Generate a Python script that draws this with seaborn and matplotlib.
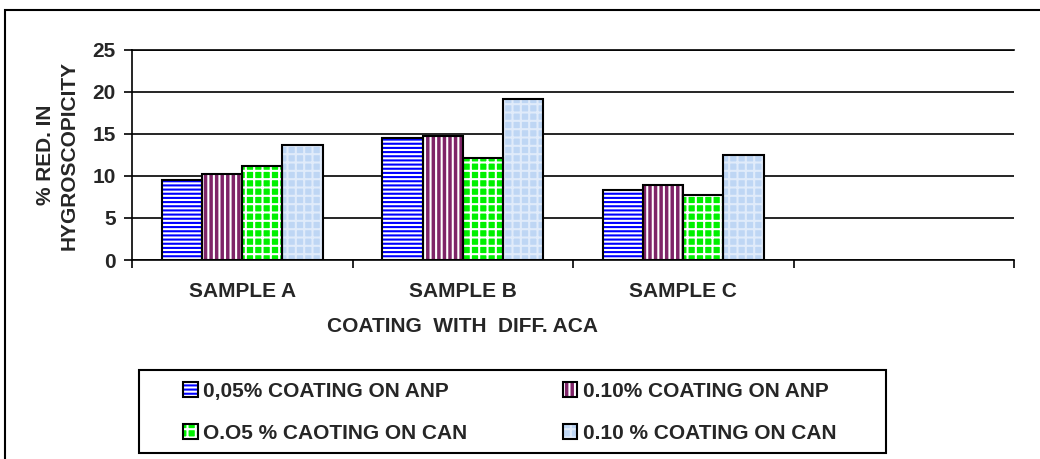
import matplotlib
matplotlib.use("Agg")
import matplotlib.pyplot as plt
import seaborn as sns
import pandas as pd
import numpy as np
from matplotlib.patches import Patch, Rectangle
from matplotlib.legend_handler import HandlerTuple
from matplotlib.colors import to_rgba

# ---------------- data ----------------
categories = ["SAMPLE A", "SAMPLE B", "SAMPLE C", ""]
series_names = ["0,05% COATING ON ANP", "0.10% COATING ON ANP",
                "O.O5 % CAOTING ON CAN", "0.10 % COATING ON CAN"]
anp_005 = [9.5, 14.5, 8.3]
anp_010 = [10.2, 14.8, 8.9]
can_005 = [11.2, 12.1, 7.7]
can_010 = [13.7, 19.2, 12.5]
y_ticks = [0, 5, 10, 15, 20, 25]
x_title = "COATING  WITH  DIFF. ACA"
y_title = "% RED. IN\nHYGROSCOPICITY"

# ---------------- style ----------------
face_colors = ["#FFFFFF", "#7F2468", "#00F000", "#BED6F4"]
hatch_colors = ["#0000FF", "#FFFFFF", "#FFFFFF", "#E0EBFA"]
hatches = ["----", "|||", "++", "++"]

sns.set_style("white")
plt.rcParams["font.family"] = ["Liberation Sans", "DejaVu Sans"]
plt.rcParams["font.weight"] = "bold"
plt.rcParams["hatch.linewidth"] = 1.5
FS = 15

rows = []
for name, vals in zip(series_names, [anp_005, anp_010, can_005, can_010]):
    for cat, v in zip(categories[:3], vals):
        rows.append({"cat": cat, "val": v, "series": name})
df = pd.DataFrame(rows)

W, H = 1040, 459
fig = plt.figure(figsize=(W / 100, H / 100), dpi=100)
ax = fig.add_axes([132 / W, 1 - 260 / H, (1014 - 132) / W, (260 - 50) / H])

pal = dict(zip(series_names, face_colors))
# pass 1: filled, hatched bars
sns.barplot(data=df, x="cat", y="val", hue="series", order=categories,
            hue_order=series_names, palette=pal, width=0.73, linewidth=0,
            errorbar=None, legend=False, ax=ax, saturation=1)
n_first = len(ax.patches)
face_rgba = [to_rgba(c) for c in face_colors]
for p in ax.patches:
    fc = p.get_facecolor()
    idx = int(np.argmin([np.sum((np.array(fc) - np.array(c)) ** 2) for c in face_rgba]))
    p.set_hatch(hatches[idx])
    p.set_edgecolor(hatch_colors[idx])
    p.set_linewidth(0)

# pass 2: black outlines
sns.barplot(data=df, x="cat", y="val", hue="series", order=categories,
            hue_order=series_names, palette=pal, width=0.73, linewidth=1.5,
            errorbar=None, legend=False, ax=ax, saturation=1)
for p in ax.patches[n_first:]:
    p.set_facecolor("none")
    p.set_edgecolor("black")
    p.set_linewidth(1.5)

# ---------------- axes ----------------
ax.set_xlim(-0.5, len(categories) - 0.5)
ax.set_ylim(0, 25)
ax.set_yticks(y_ticks)
ax.set_yticklabels([str(t) for t in y_ticks], fontsize=FS, fontweight="bold")
ax.set_xticks(range(len(categories)))
ax.set_xticklabels(categories, fontsize=FS, fontweight="bold")
ax.set_xticks(np.arange(-0.5, len(categories)), minor=True)
ax.tick_params(axis="x", which="major", bottom=True, length=0, pad=16)
ax.tick_params(axis="x", which="minor", bottom=True, length=5.5, width=1.2,
               direction="out", color="black")
ax.tick_params(axis="y", which="major", left=True, length=5.8, width=1.2,
               direction="out", color="black", pad=6)
ax.yaxis.grid(True, color="black", linewidth=1.2)
ax.xaxis.grid(False)
ax.set_axisbelow(True)
for s in ["left", "bottom", "top"]:
    ax.spines[s].set_visible(True)
    ax.spines[s].set_color("black")
    ax.spines[s].set_linewidth(1.2)
ax.spines["right"].set_visible(False)

ax.set_xlabel(x_title, fontsize=FS, fontweight="bold")
ax.xaxis.set_label_coords((462.5 - 132) / (1014 - 132), -(326 - 260) / (260 - 50))
ax.xaxis.label.set_va("center")
ax.set_ylabel(y_title, fontsize=FS, fontweight="bold", linespacing=1.3, labelpad=10)

# ---------------- legend (row-major order like the reference) ----------------
handles = []
for fc, hc, h in zip(face_colors, hatch_colors, hatches):
    handles.append((Patch(facecolor=fc, edgecolor=hc, hatch=h, linewidth=0),
                    Patch(facecolor="none", edgecolor="black", linewidth=1.5)))
order = [0, 2, 1, 3]
fig.legend([handles[i] for i in order], [series_names[i] for i in order],
           loc="upper left",
           bbox_to_anchor=(183 / W, 1 - 382 / H), ncol=2, frameon=False,
           borderpad=0, borderaxespad=0, handlelength=0.7, handleheight=0.7,
           handletextpad=0.25, columnspacing=4.6, labelspacing=1.1,
           prop={"size": FS, "weight": "bold"},
           handler_map={tuple: HandlerTuple(ndivide=1, pad=0)})
fig.add_artist(Rectangle((139 / W, 6 / H), (886 - 139) / W, (453 - 370) / H,
                         transform=fig.transFigure, fill=False,
                         edgecolor="black", linewidth=1.5))
# outer chart-area border (top and left visible)
fig.add_artist(Rectangle((5 / W, -0.5), 2.0, 0.5 + 1 - 10 / H,
                         transform=fig.transFigure, fill=False,
                         edgecolor="black", linewidth=1.5))

fig.savefig("out.png", dpi=100)
